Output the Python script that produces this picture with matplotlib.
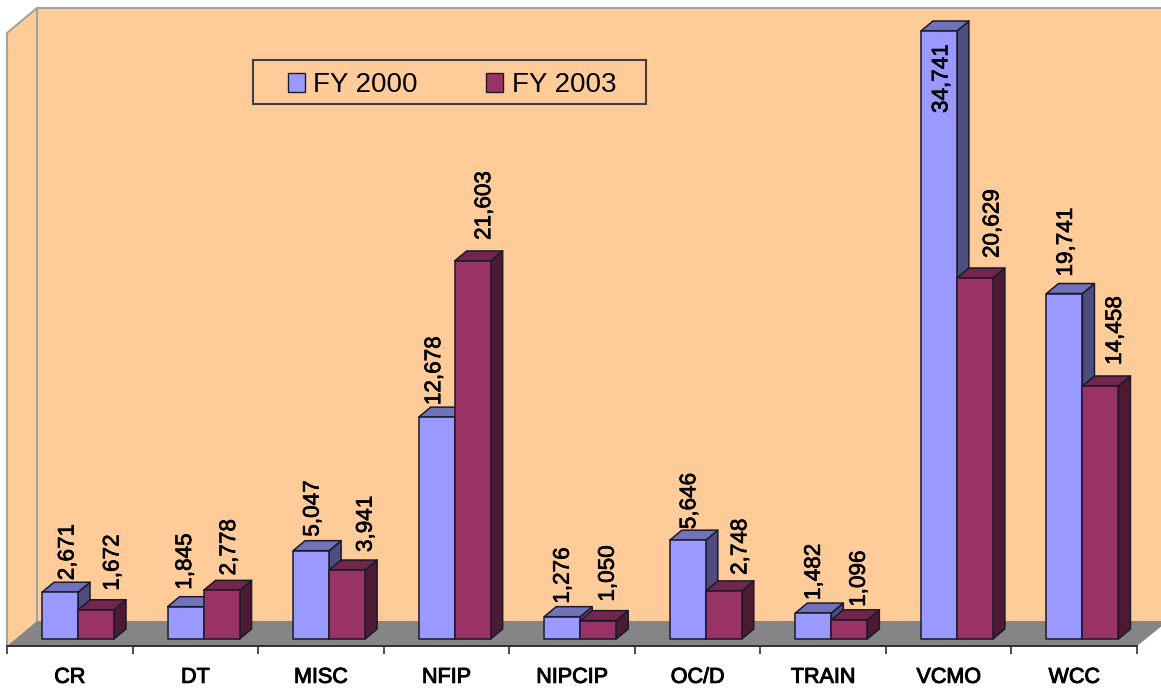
import matplotlib
matplotlib.use('Agg')

import matplotlib.pyplot as plt
import matplotlib.patheffects as pe
from matplotlib.patches import Polygon, Patch, Rectangle

plt.rcParams['font.family'] = ['Liberation Sans', 'DejaVu Sans']

categories = ['CR', 'DT', 'MISC', 'NFIP', 'NIPCIP', 'OC/D', 'TRAIN', 'VCMO', 'WCC']
fy2000 = [2671, 1845, 5047, 12678, 1276, 5646, 1482, 34741, 19741]
fy2003 = [1672, 2778, 3941, 21603, 1050, 2748, 1096, 20629, 14458]

# label nudges in pixels from the bar centre / bar top, the chart places them unevenly
dx2000 = [8, 0, 2, -2, 1, 2, 1, 3, 2]
gap2000 = [12, 17, 14, 12, 13, 11, 13, -82, 17]
dx2003 = [17, 8, 19, 12, 10, 17, 10, 18, 15]
gap2003 = [19, 15, 18, 21, 19, 16, 13, 20, 21]

W, H = 1161, 688
CAT_W = 125.55      # pixels per category
Y_SCALE = 0.0175    # pixels per unit
LEFT, BASE = 7, 639
AXIS_Y = 646
TOP_Y = 8
DEPTH_X, DEPTH_Y = 12, 10
BAR_W = 36 / CAT_W
BAR_OFF = 35 / CAT_W

WALL = '#FFCC99'
FLOOR = '#858585'
WALL_LINE = '#A3A3A3'
EDGE = '#1a1a2a'
BLUE = ('#9999FF', '#7272BA', '#4D4D80')
RED = ('#993366', '#72264C', '#4D1A33')

# the reference text is a little heavy from being scaled up
HEAVY = [pe.withStroke(linewidth=0.5, foreground='black')]


def px_x(x):
	return (x - LEFT) / CAT_W


def px_y(y):
	return (BASE - y) / Y_SCALE


def poly(ax, points, color, edge='none', lw=1.0, z=1):
	# points are given in image pixels
	pts = [(px_x(x), px_y(y)) for x, y in points]
	ax.add_patch(Polygon(pts, closed=True, facecolor=color, edgecolor=edge, linewidth=lw,
						 zorder=z, clip_on=False))


def bar3d(ax, x, value, colors, z):
	dx = DEPTH_X / CAT_W
	dy = DEPTH_Y / Y_SCALE
	kw = dict(edgecolor=EDGE, linewidth=1.1, joinstyle='round', zorder=z, clip_on=False)
	ax.add_patch(Polygon([(x + BAR_W, 0), (x + BAR_W + dx, dy), (x + BAR_W + dx, value + dy), (x + BAR_W, value)],
						 facecolor=colors[2], **kw))
	ax.add_patch(Polygon([(x, value), (x + dx, value + dy), (x + BAR_W + dx, value + dy), (x + BAR_W, value)],
						 facecolor=colors[1], **kw))
	ax.add_patch(Rectangle((x, 0), BAR_W, value, facecolor=colors[0], **kw))


fig = plt.figure(figsize=(W / 100, H / 100), dpi=100, facecolor='white')
ax = fig.add_axes([LEFT / W, (H - AXIS_Y) / H, (1137 - LEFT) / W, (AXIS_Y - TOP_Y) / H])
ax.patch.set_visible(False)
ax.set_xlim(0, len(categories))
ax.set_ylim(px_y(AXIS_Y), px_y(TOP_Y))

# walls and floor
poly(ax, [(37, TOP_Y), (W + 2, TOP_Y), (W + 2, 621), (37, 621)], WALL, z=1)
poly(ax, [(LEFT, 33), (37, TOP_Y), (37, 621), (LEFT, AXIS_Y)], WALL, z=1)
poly(ax, [(LEFT, AXIS_Y), (37, 621), (W + 2, 621), (W + 2, 625), (1137, AXIS_Y)], FLOOR, z=2)
ax.plot([px_x(x) for x in (LEFT, LEFT, 37, W + 2)], [px_y(y) for y in (AXIS_Y, 33, TOP_Y, TOP_Y)],
		color=WALL_LINE, lw=1.5, zorder=3, clip_on=False)
ax.plot([px_x(37), px_x(37)], [px_y(TOP_Y), px_y(621)], color=WALL_LINE, lw=1.5, zorder=3, clip_on=False)

z = 5
for i in range(len(categories)):
	x1 = i + BAR_OFF
	x2 = x1 + BAR_W
	bar3d(ax, x1, fy2000[i], BLUE, z)
	bar3d(ax, x2, fy2003[i], RED, z + 1)
	z += 2

for i in range(len(categories)):
	x1 = i + BAR_OFF
	x2 = x1 + BAR_W
	ax.annotate(f'{fy2000[i]:,}', (x1 + BAR_W / 2, fy2000[i]), xytext=(dx2000[i], gap2000[i]),
				textcoords='offset pixels', rotation=90, ha='center', va='bottom',
				fontsize=16.2, color='black', zorder=50, annotation_clip=False, path_effects=HEAVY)
	ax.annotate(f'{fy2003[i]:,}', (x2 + BAR_W / 2, fy2003[i]), xytext=(dx2003[i], gap2003[i]),
				textcoords='offset pixels', rotation=90, ha='center', va='bottom',
				fontsize=16.2, color='black', zorder=50, annotation_clip=False, path_effects=HEAVY)

# axis
for name in ('left', 'right', 'top'):
	ax.spines[name].set_visible(False)
ax.spines['bottom'].set_color('#303030')
ax.spines['bottom'].set_linewidth(1.4)
ax.spines['bottom'].set_zorder(60)
ax.set_yticks([])
ax.set_xticks(range(len(categories) + 1))
ax.set_xticklabels([])
ax.set_xticks([i + 0.5 for i in range(len(categories))], labels=categories, minor=True)
ax.tick_params(axis='x', which='major', length=6, width=1.2, color='#303030')
ax.tick_params(axis='x', which='minor', length=0, pad=15, labelsize=15.5)
for lab in ax.get_xticklabels(minor=True):
	lab.set_path_effects([pe.withStroke(linewidth=0.7, foreground='black')])

# legend box, drawn apart from the entries because the padding differs per side
ax.add_patch(Rectangle((px_x(253), px_y(104)), (646 - 253) / CAT_W, 44 / Y_SCALE, facecolor=WALL,
					   edgecolor='#404040', linewidth=1.5, zorder=70))
handles = [Patch(facecolor=BLUE[0], edgecolor=EDGE, label='FY 2000'),
		   Patch(facecolor=RED[0], edgecolor=EDGE, label='FY 2003')]
leg = ax.legend(handles=handles, ncols=2, frameon=False, fontsize=20, loc='center',
				bbox_to_anchor=(452 / W, 1 - 85 / H), bbox_transform=fig.transFigure,
				handlelength=0.61, handleheight=0.65, handletextpad=0.32, columnspacing=2.45,
				borderpad=0, borderaxespad=0)
leg.set_zorder(80)

fig.savefig('out.png', dpi=100, facecolor='white')
